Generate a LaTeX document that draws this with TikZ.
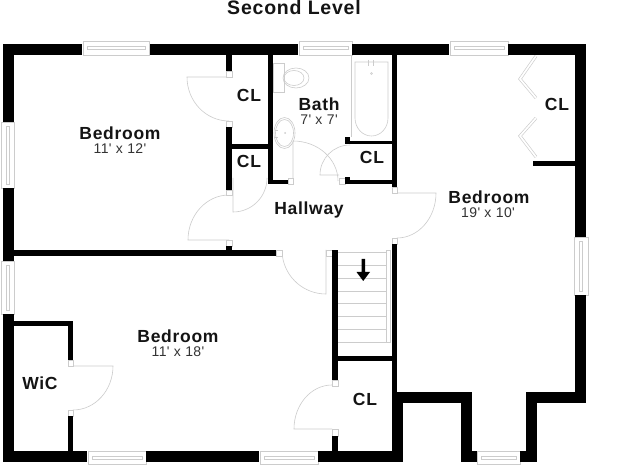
\documentclass[tikz,border=0pt]{standalone}
\usepackage{fontspec}
\setmainfont{Liberation Sans}
\newfontfamily\labfont[LetterSpace=4,BoldFont={Liberation Sans Bold}]{Liberation Sans}
\newfontfamily\sizefont[LetterSpace=3]{Liberation Sans}
\definecolor{fixc}{gray}{0.8}
\tikzset{
  wall/.style={fill=black,draw=none},
  fixt/.style={draw=fixc,line width=0.6pt,fill=none},
  swing/.style={draw=fixc,line width=0.6pt},
  stub/.style={draw=fixc,line width=0.5pt,fill=white},
  win/.style={draw=fixc,line width=0.6pt,fill=white},
  room/.style={inner sep=0pt,font=\labfont\bfseries\fontsize{17.5}{20}\selectfont,text=black!92},
  size/.style={inner sep=0pt,font=\sizefont\fontsize{14}{16}\selectfont,text=black!80},
  tread/.style={draw=fixc,line width=0.8pt},
  bifold/.style={draw=fixc,line width=3pt,line join=miter},
  bifoldin/.style={draw=white,line width=1.7pt,line join=miter}
}
\newcommand{\WL}[4]{\fill[wall] (#1,#2) rectangle (#3,#4);}
\newcommand{\HWin}[4]{\draw[win] (#1,#2) rectangle (#3,#4);
  \draw[fixt] ({#1+4},{#2+5}) rectangle ({#3-4},{#2+8});}
\newcommand{\VWin}[4]{\draw[win] (#1,#2) rectangle (#3,#4);
  \draw[fixt] ({#1+5},{#2+4}) rectangle ({#1+8},{#4-4});}
\newcommand{\STB}[4]{\draw[stub] (#1,#2) rectangle (#3,#4);}
\begin{document}
\begin{tikzpicture}[x=1pt,y=-1pt]
\useasboundingbox (0,0) rectangle (640,470);
\fill[white] (0,0) rectangle (640,470);
% windows
\HWin{83}{41}{149}{55}
\HWin{299}{41}{352}{55}
\HWin{450}{41}{508}{55}
\HWin{88}{451}{146}{464}
\HWin{260}{451}{318}{464}
\HWin{477}{451}{520}{464}
\VWin{1}{122}{14}{188}
\VWin{1}{261}{14}{314}
\VWin{574}{237}{588}{295}
% fixtures: toilet
\draw[fixt] (273,63) rectangle (284,92);
\draw[fixt] (296,78) ellipse (13 and 10);
\draw[fixt] (294,78) ellipse (10 and 7.5);
% sink
\draw[fixt] (284.5,133) ellipse (10.5 and 15.5);
\draw[fixt] (284.5,133) ellipse (9 and 13.5);
\fill[fixc] (285,133) circle (1);
\draw[fixt] (275,130) -- (278,130) (275,137) -- (278,137);
% tub
\draw[fixt] (351,55) -- (351,137);
\draw[fixt] (355,62) -- (388,62) -- (388,118) arc[start angle=0,end angle=180,x radius=16.5,y radius=18] -- cycle;
\draw[fixt] (368.5,60) -- (368.5,66) (373,60) -- (373,66);
\draw[fixt] (371.5,73.5) circle (1);
% stairs
\foreach \y in {252,265,278,291,303,316,329,342}
  \draw[tread] (338,\y) -- (386,\y);
\draw[fixt] (386,250) rectangle (390,342);
% bifold doors
\draw[bifold] (536,56) -- (520,79) -- (536,98);
\draw[bifoldin] (536,56) -- (520,79) -- (536,98);
\draw[bifold] (536,118) -- (520,136) -- (536,157);
\draw[bifoldin] (536,118) -- (520,136) -- (536,157);
% door swings
\draw[swing] (229,77) -- (187,77) arc[start angle=180,end angle=90,x radius=42,y radius=44];
\draw[swing] (233,178) -- (233,212) arc[start angle=90,end angle=0,x radius=34,y radius=34];
\draw[swing] (229,240) -- (188,240) arc[start angle=180,end angle=270,x radius=41,y radius=45];
\draw[swing] (293,181) -- (293,141) arc[start angle=-90,end angle=0,x radius=45,y radius=40];
\draw[swing] (339,175) -- (320,175) arc[start angle=180,end angle=270,x radius=30,y radius=30];
\draw[swing] (397,193) -- (436,193) arc[start angle=0,end angle=90,x radius=39,y radius=45];
\draw[swing] (326,250) -- (326,294) arc[start angle=90,end angle=172,x radius=44,y radius=44];
\draw[swing] (332,429) -- (294,429) arc[start angle=180,end angle=270,x radius=38,y radius=44];
\draw[swing] (73,366) -- (113,366) arc[start angle=0,end angle=90,x radius=40,y radius=44];
% door stubs
\STB{226}{71}{232}{77}
\STB{226}{121}{232}{127}
\STB{226}{190}{232}{195}
\STB{226}{240}{232}{246}
\STB{288}{178}{293}{184}
\STB{339}{178}{345}{184}
\STB{392}{187}{397}{193}
\STB{392}{238}{397}{244}
\STB{276}{250}{282}{256}
\STB{326}{250}{332}{256}
\STB{332}{380}{338}{386}
\STB{332}{429}{338}{436}
\STB{68}{360}{73}{366}
\STB{68}{410}{73}{416}
% outer walls
\WL{3}{44}{82}{55}
\WL{150}{44}{298}{55}
\WL{352}{44}{449}{55}
\WL{508}{44}{586}{55}
\WL{3}{44}{14}{122}
\WL{3}{188}{14}{261}
\WL{3}{314}{14}{462}
\WL{3}{451}{87}{462}
\WL{146}{451}{259}{462}
\WL{318}{451}{403}{462}
\WL{575}{44}{586}{237}
\WL{575}{295}{586}{403}
\WL{526}{392}{586}{403}
\WL{526}{392}{537}{462}
\WL{520}{451}{537}{462}
\WL{461}{392}{472}{462}
\WL{461}{451}{477}{462}
\WL{392}{392}{472}{403}
\WL{392}{392}{403}{462}
% inner walls
\WL{14}{250}{276}{256}
\WL{226}{55}{232}{71}
\WL{226}{127}{232}{190}
\WL{226}{246}{232}{250}
\WL{226}{144}{268}{149}
\WL{268}{55}{273}{184}
\WL{268}{180}{288}{184}
\WL{392}{55}{397}{187}
\WL{345}{141}{392}{144}
\WL{345}{137}{350}{144}
\WL{345}{180}{392}{184}
\WL{345}{177}{350}{184}
\WL{533}{161}{575}{166}
\WL{392}{244}{397}{392}
\WL{332}{250}{338}{380}
\WL{338}{356}{392}{361}
\WL{332}{436}{338}{451}
\WL{14}{321}{73}{326}
\WL{68}{321}{73}{360}
\WL{68}{416}{73}{451}
% stair arrow
\fill[black] (361.5,259) -- (365,259) -- (365,272) -- (370,272) -- (363.2,281) -- (356.5,272) -- (361.5,272) -- cycle;
% labels
\node[room,font=\labfont\bfseries\fontsize{19.5}{22}\selectfont] (title) at (294,8) {Second Level};
\node[room] (bed1) at (120,133) {Bedroom};
\node[size] (bed1s) at (120,149) {11' x 12'};
\node[room] (cl1) at (249,95) {CL};
\node[room] (cl2) at (249,161) {CL};
\node[room] (bath) at (319,104) {Bath};
\node[size] (baths) at (319,120) {7' x 7'};
\node[room] (cl3) at (372,157) {CL};
\node[room] (cl4) at (557,104) {CL};
\node[room] (bed2) at (489,197) {Bedroom};
\node[size] (bed2s) at (488,213) {19' x 10'};
\node[room] (hall) at (309,210) {Hallway};
\node[room] (bed3) at (178,336) {Bedroom};
\node[size] (bed3s) at (178,352) {11' x 18'};
\node[room] (wic) at (40,383) {WiC};
\node[room] (cl5) at (365,399) {CL};
\end{tikzpicture}
\end{document}
